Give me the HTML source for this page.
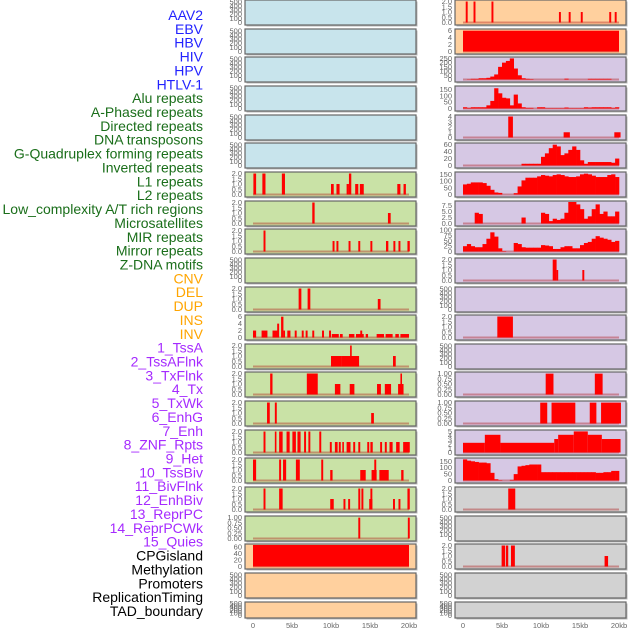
<!DOCTYPE html>
<html><head><meta charset="utf-8">
<style>
html,body{margin:0;padding:0;background:#fff;}
svg{display:block;font-family:"Liberation Sans",sans-serif;}
</style></head>
<body>
<svg id="chart" width="630" height="630" viewBox="0 0 630 630" xmlns="http://www.w3.org/2000/svg">
<g id="labels"></g>
<g id="panels"></g>
<g id="xaxes"></g>
</svg>
<script>
const trackLabels = ["AAV2","EBV","HBV","HIV","HPV","HTLV-1","Alu repeats","A-Phased repeats","Directed repeats","DNA transposons","G-Quadruplex forming repeats","Inverted repeats","L1 repeats","L2 repeats","Low_complexity A/T rich regions","Microsatellites","MIR repeats","Mirror repeats","Z-DNA motifs","CNV","DEL","DUP","INS","INV","1_TssA","2_TssAFlnk","3_TxFlnk","4_Tx","5_TxWk","6_EnhG","7_Enh","8_ZNF_Rpts","9_Het","10_TssBiv","11_BivFlnk","12_EnhBiv","13_ReprPC","14_ReprPCWk","15_Quies","CPGisland","Methylation","Promoters","ReplicationTiming","TAD_boundary"];
const labelGroups = ["virus","virus","virus","virus","virus","virus","repeat","repeat","repeat","repeat","repeat","repeat","repeat","repeat","repeat","repeat","repeat","repeat","repeat","sv","sv","sv","sv","sv","state","state","state","state","state","state","state","state","state","state","state","state","state","state","state","other","other","other","other","other"];
const xTickValues = [0,5,10,15,20];
const xTickLabels = ["0","5kb","10kb","15kb","20kb"];

const L06 = [[0.05,0.4,2],[1.2,1.6,2],[3.7,4.1,2],[10.0,10.35,1],[10.7,11.1,1],[12.0,12.3,1],[12.3,12.6,2],[13.1,13.5,1],[13.7,14.2,1],[18.5,18.9,1],[19.3,19.6,1]];
const L07 = [[7.6,7.9,2],[17.3,17.65,1]];
const L08 = [[1.35,1.6,2],[10.2,10.45,1],[10.7,10.95,1],[12.25,12.5,1],[13.5,13.75,1],[15.05,15.3,1],[17.05,17.35,1],[18.0,18.25,1],[18.65,18.9,1],[19.8,20.1,1]];
const L10 = [[5.85,6.2,2],[7.0,7.35,2],[16.0,16.35,1]];
const L11 = [[0,0.4,2],[1.1,1.85,2],[2.5,3.25,2],[3.1,3.35,4],[3.6,3.9,6],[3.9,4.1,2],[4.4,4.8,2],[5.35,5.6,2],[6.25,6.5,2],[6.75,7.0,2],[7.6,7.85,2],[8.85,9.1,2],[9.75,10.0,2],[10.1,11.0,1],[11.15,11.5,1],[12.3,13.0,1],[13.2,14.2,1],[13.75,14.0,2],[14.45,14.75,1],[15.85,16.8,1],[17.0,17.9,1],[18.25,18.7,1],[18.9,20.0,1]];
const L12 = [[10.0,11.4,1],[11.4,13.6,1],[12.45,12.65,2],[17.95,18.3,1]];
const L13 = [[2.2,2.5,2],[6.9,8.3,2],[10.5,11.2,1],[12.4,13.0,1],[15.9,16.4,1],[16.9,17.7,1],[18.6,19.3,1],[18.9,19.1,2]];
const L14 = [[1.8,2.15,2],[2.8,3.05,2],[15.15,15.5,1]];
const L15 = [[1.35,1.6,2],[2.8,3.0,2],[3.35,3.8,2],[4.3,4.7,2],[5.05,5.5,2],[5.7,6.1,2],[6.55,6.8,2],[7.1,7.35,2],[8.5,8.75,2],[9.85,10.1,1],[10.5,10.85,1],[11.0,11.25,1],[11.45,11.65,1],[12.0,12.5,1],[12.85,13.1,1],[13.5,13.75,1],[14.65,14.9,1],[15.05,15.35,1],[16.3,16.55,1],[16.9,17.15,1],[17.5,17.9,1],[18.35,18.8,1],[19.25,20.1,1]];
const L16 = [[0,0.4,2],[3.35,3.6,2],[3.85,4.25,2],[5.5,6.0,2],[8.75,9.0,2],[9.9,10.2,1],[13.75,14.45,1],[15.2,15.85,1],[15.55,15.8,2],[16.2,17.4,1],[19.0,19.3,1]];
const L17 = [[1.35,1.6,2],[3.35,3.8,2],[13.5,13.75,2],[13.9,14.15,2],[14.9,15.3,1],[15.05,15.3,2],[9.9,10.35,1],[11.6,11.85,1],[12.2,12.45,1],[17.95,18.2,1],[18.65,18.9,1],[19.8,20.1,2]];
const L18 = [[13.5,13.75,1],[19.85,20.1,1]];
const L19 = [[0,20,66],[1.8,2.4,64],[13.8,14.2,64]];

const R00 = [[0.35,0.6,2],[1.35,1.6,2],[3.65,3.9,2],[12.3,12.55,1],[13.55,13.8,1],[15.1,15.35,1],[18.75,19.0,1],[19.45,19.7,1]];
const R01 = [[0,20,6]];
const R02 = [0,3,8,8,15,15,20,35,60,150,200,220,250,130,50,15,8,5,0,0,0,0,0,0,0,0,10,0,0,0,0,0,8,8,8,8,8,8,0,0];
const R03 = [10,5,10,10,10,10,25,60,160,120,85,80,25,110,40,10,5,5,0,10,10,3,3,3,3,3,8,3,3,3,3,10,8,10,10,10,10,10,5,10];
const R04 = [[5.8,6.4,4],[12.9,13.7,1],[19.4,20.2,1]];
const R05 = [0,0,0,0,0,0,0,0,0,0,0,0,0,0,0,5,5,5,5,5,25,35,50,60,55,30,35,45,55,45,15,5,10,10,10,10,10,10,8,20];
const R06 = [75,80,90,90,90,85,65,35,15,12,0,0,0,10,60,105,125,125,125,135,145,140,135,145,150,145,135,130,130,135,150,155,150,140,130,130,130,145,150,130];
const R07 = [0,0,0,4.5,4,0,0,0,0,0,0,0,0,0,0,2.5,0,0,0,0,4.5,4,1,2,1.5,2,4.5,9,9,8,6,2,3,6,8,4,5,3,3,5];
const R08 = [25,35,25,20,20,35,60,90,70,15,2,0,0,40,35,20,18,18,18,18,30,28,25,12,12,20,25,25,15,15,30,40,45,60,72,65,60,55,45,50];
const R09 = [[11.5,12.0,2],[12.0,12.2,1],[15.3,15.55,1]];
const R11 = [[4.4,6.4,2]];
const R13 = [[10.6,11.6,1],[16.9,17.9,1]];
const R14 = [[9.9,10.8,1],[11.35,14.4,1],[16.25,17.1,1],[17.7,20.25,1]];
const R15 = [[0,2.8,2.3],[2.8,4.8,4.2],[4.8,11.7,2.3],[11.7,12.2,3.2],[12.2,14.2,4.2],[14.2,16.0,5],[16.0,17.8,4.2],[17.8,20.2,3.2]];
const R16 = [165,155,150,145,140,140,135,60,10,3,0,0,5,50,110,115,120,125,125,125,65,65,65,65,65,65,65,65,65,65,65,65,65,65,60,60,65,65,75,75];
const R17 = [[5.8,6.7,2]];
const R19 = [[4.95,5.4,2],[5.5,5.8,2],[6.15,6.65,2],[18.15,18.6,1]];

const T500 = [0,100,200,300,400,500];
const T2 = [0,0.5,1,1.5,2];
const T1 = [0,0.25,0.5,0.75,1];

const leftPanels = [
 {bg:"#c8e4ec",max:520,ticks:T500},{bg:"#c8e4ec",max:520,ticks:T500},{bg:"#c8e4ec",max:520,ticks:T500},
 {bg:"#c8e4ec",max:520,ticks:T500},{bg:"#c8e4ec",max:520,ticks:T500},{bg:"#c8e4ec",max:520,ticks:T500},
 {bg:"#c9e2a6",max:2.05,ticks:T2,seg:L06,d:1},{bg:"#c9e2a6",max:2.05,ticks:T2,seg:L07,d:1},
 {bg:"#c9e2a6",max:2.05,ticks:T2,seg:L08,d:1},{bg:"#c9e2a6",max:520,ticks:T500},
 {bg:"#c9e2a6",max:2.05,ticks:T2,seg:L10,d:1},{bg:"#c9e2a6",max:6.2,ticks:[0,2,4,6],seg:L11},
 {bg:"#c9e2a6",max:2.05,ticks:T2,seg:L12,d:1},{bg:"#c9e2a6",max:2.05,ticks:T2,seg:L13,d:1},
 {bg:"#c9e2a6",max:2.05,ticks:T2,seg:L14,d:1},{bg:"#c9e2a6",max:2.05,ticks:T2,seg:L15,d:1},
 {bg:"#c9e2a6",max:2.05,ticks:T2,seg:L16,d:1},{bg:"#c9e2a6",max:2.05,ticks:T2,seg:L17,d:1},
 {bg:"#c9e2a6",max:1.03,ticks:T1,seg:L18,d:2},{bg:"#ffd09e",max:66,ticks:[0,20,40,60],seg:L19},
 {bg:"#ffd09e",max:520,ticks:T500},{bg:"#ffd09e",max:520,ticks:T500}
];
const rightPanels = [
 {bg:"#ffd09e",max:2.05,ticks:T2,seg:R00,d:1},{bg:"#ffd09e",max:6.2,ticks:[0,2,4,6],seg:R01},
 {bg:"#d6c8e4",max:255,ticks:[0,50,100,150,200,250],hist:R02},{bg:"#d6c8e4",max:170,ticks:[0,50,100,150],hist:R03},
 {bg:"#d6c8e4",max:4.1,ticks:[0,1,2,3,4],seg:R04},{bg:"#d6c8e4",max:62,ticks:[0,20,40,60],hist:R05},
 {bg:"#d6c8e4",max:160,ticks:[0,50,100,150],hist:R06},{bg:"#d6c8e4",max:9,ticks:[0,2.5,5,7.5],hist:R07,d:1},
 {bg:"#d6c8e4",max:101,ticks:[0,25,50,75,100],hist:R08},{bg:"#d6c8e4",max:2.05,ticks:T2,seg:R09,d:1},
 {bg:"#d6c8e4",max:520,ticks:T500},{bg:"#d6c8e4",max:2.05,ticks:T2,seg:R11,d:1},
 {bg:"#d6c8e4",max:520,ticks:T500},{bg:"#d6c8e4",max:1.03,ticks:T1,seg:R13,d:2},
 {bg:"#d6c8e4",max:1.03,ticks:T1,seg:R14,d:2},{bg:"#d6c8e4",max:5.1,ticks:[0,1,2,3,4,5],seg:R15},
 {bg:"#d6c8e4",max:168,ticks:[0,50,100,150],hist:R16},{bg:"#d2d2d2",max:2.05,ticks:T2,seg:R17,d:1},
 {bg:"#d2d2d2",max:520,ticks:T500},{bg:"#d2d2d2",max:2.05,ticks:T2,seg:R19,d:1},
 {bg:"#d2d2d2",max:520,ticks:T500},{bg:"#d2d2d2",max:520,ticks:T500}
];

const NS = "http://www.w3.org/2000/svg";
const groupColor = {virus:"#2222ff",repeat:"#1a6e1a",sv:"#ffa500",state:"#a52aff",other:"#000000"};
function mk(tag, attrs, parent){
  const e = document.createElementNS(NS, tag);
  for (const k in attrs) e.setAttribute(k, attrs[k]);
  parent.appendChild(e);
  return e;
}
const labelsG = document.getElementById("labels");
trackLabels.forEach((t,i)=>{
  const el = mk("text",{x:203,y:(15+i*13.86+5).toFixed(1),"text-anchor":"end","font-size":"14",fill:groupColor[labelGroups[i]]},labelsG);
  el.textContent = t;
  
  
});

const panelsG = document.getElementById("panels");
const colX = [245, 455];
const PW = 171;
function rowTop(i){ return Math.round(i*28.65); }
function rowH(i){ return i===21 ? 16 : 25; }
function xScale(col, kb){ return colX[col] + 8 + kb*156/20; }

function drawPanel(col, i, p){
  const T = rowTop(i), H = rowH(i), X = colX[col];
  const g = mk("g",{},panelsG);
  
  
  mk("rect",{x:X+1.5,y:T+1.5,width:PW,height:H,fill:"#b8b8b8"},g);
  mk("rect",{x:X,y:T,width:PW,height:H,fill:p.bg,stroke:"#666",'stroke-width':1.2},g);
  const y0 = T + H - 2.5, y1 = T + 1;
  const yScale = v => y0 - (v/p.max)*(y0-y1);
  p.ticks.forEach(v=>{
    const tx = mk("text",{x:X-3,y:(yScale(v)+2.5).toFixed(1),"text-anchor":"end","font-size":"7.5",fill:"#666"},g);
    tx.textContent = p.d ? v.toFixed(p.d) : String(v);
    
    
  });
  const hasData = p.seg || p.hist;
  if (hasData){
    mk("line",{x1:xScale(col,0),x2:xScale(col,20),y1:y0,y2:y0,stroke:"rgba(170,0,0,0.35)","stroke-width":2},g);
  }
  if (p.seg){
    p.seg.forEach(s=>{
      const r = mk("rect",{x:xScale(col,s[0]).toFixed(2),y:yScale(s[2]).toFixed(2),width:Math.max(1.6,xScale(col,s[1])-xScale(col,s[0])).toFixed(2),height:(y0-yScale(s[2])).toFixed(2),fill:"#ff0000"},g);
      
      
    });
  }
  if (p.hist){
    const bw = 20/p.hist.length;
    p.hist.forEach((v,k)=>{
      if (v<=0) return;
      const r = mk("rect",{x:xScale(col,k*bw).toFixed(2),y:yScale(v).toFixed(2),width:(xScale(col,(k+1)*bw)-xScale(col,k*bw)+0.3).toFixed(2),height:(y0-yScale(v)).toFixed(2),fill:"#ff0000"},g);
      
      
    });
  }
}
leftPanels.forEach((p,i)=>drawPanel(0,i,p));
rightPanels.forEach((p,i)=>drawPanel(1,i,p));

const axG = document.getElementById("xaxes");
[0,1].forEach(col=>{
  xTickValues.forEach((v,k)=>{
    const t = mk("text",{x:xScale(col,v).toFixed(1),y:628,"text-anchor":"middle","font-size":"7.5",fill:"#666"},axG);
    t.textContent = xTickLabels[k];
    
    
  });
});
</script>
</body></html>
